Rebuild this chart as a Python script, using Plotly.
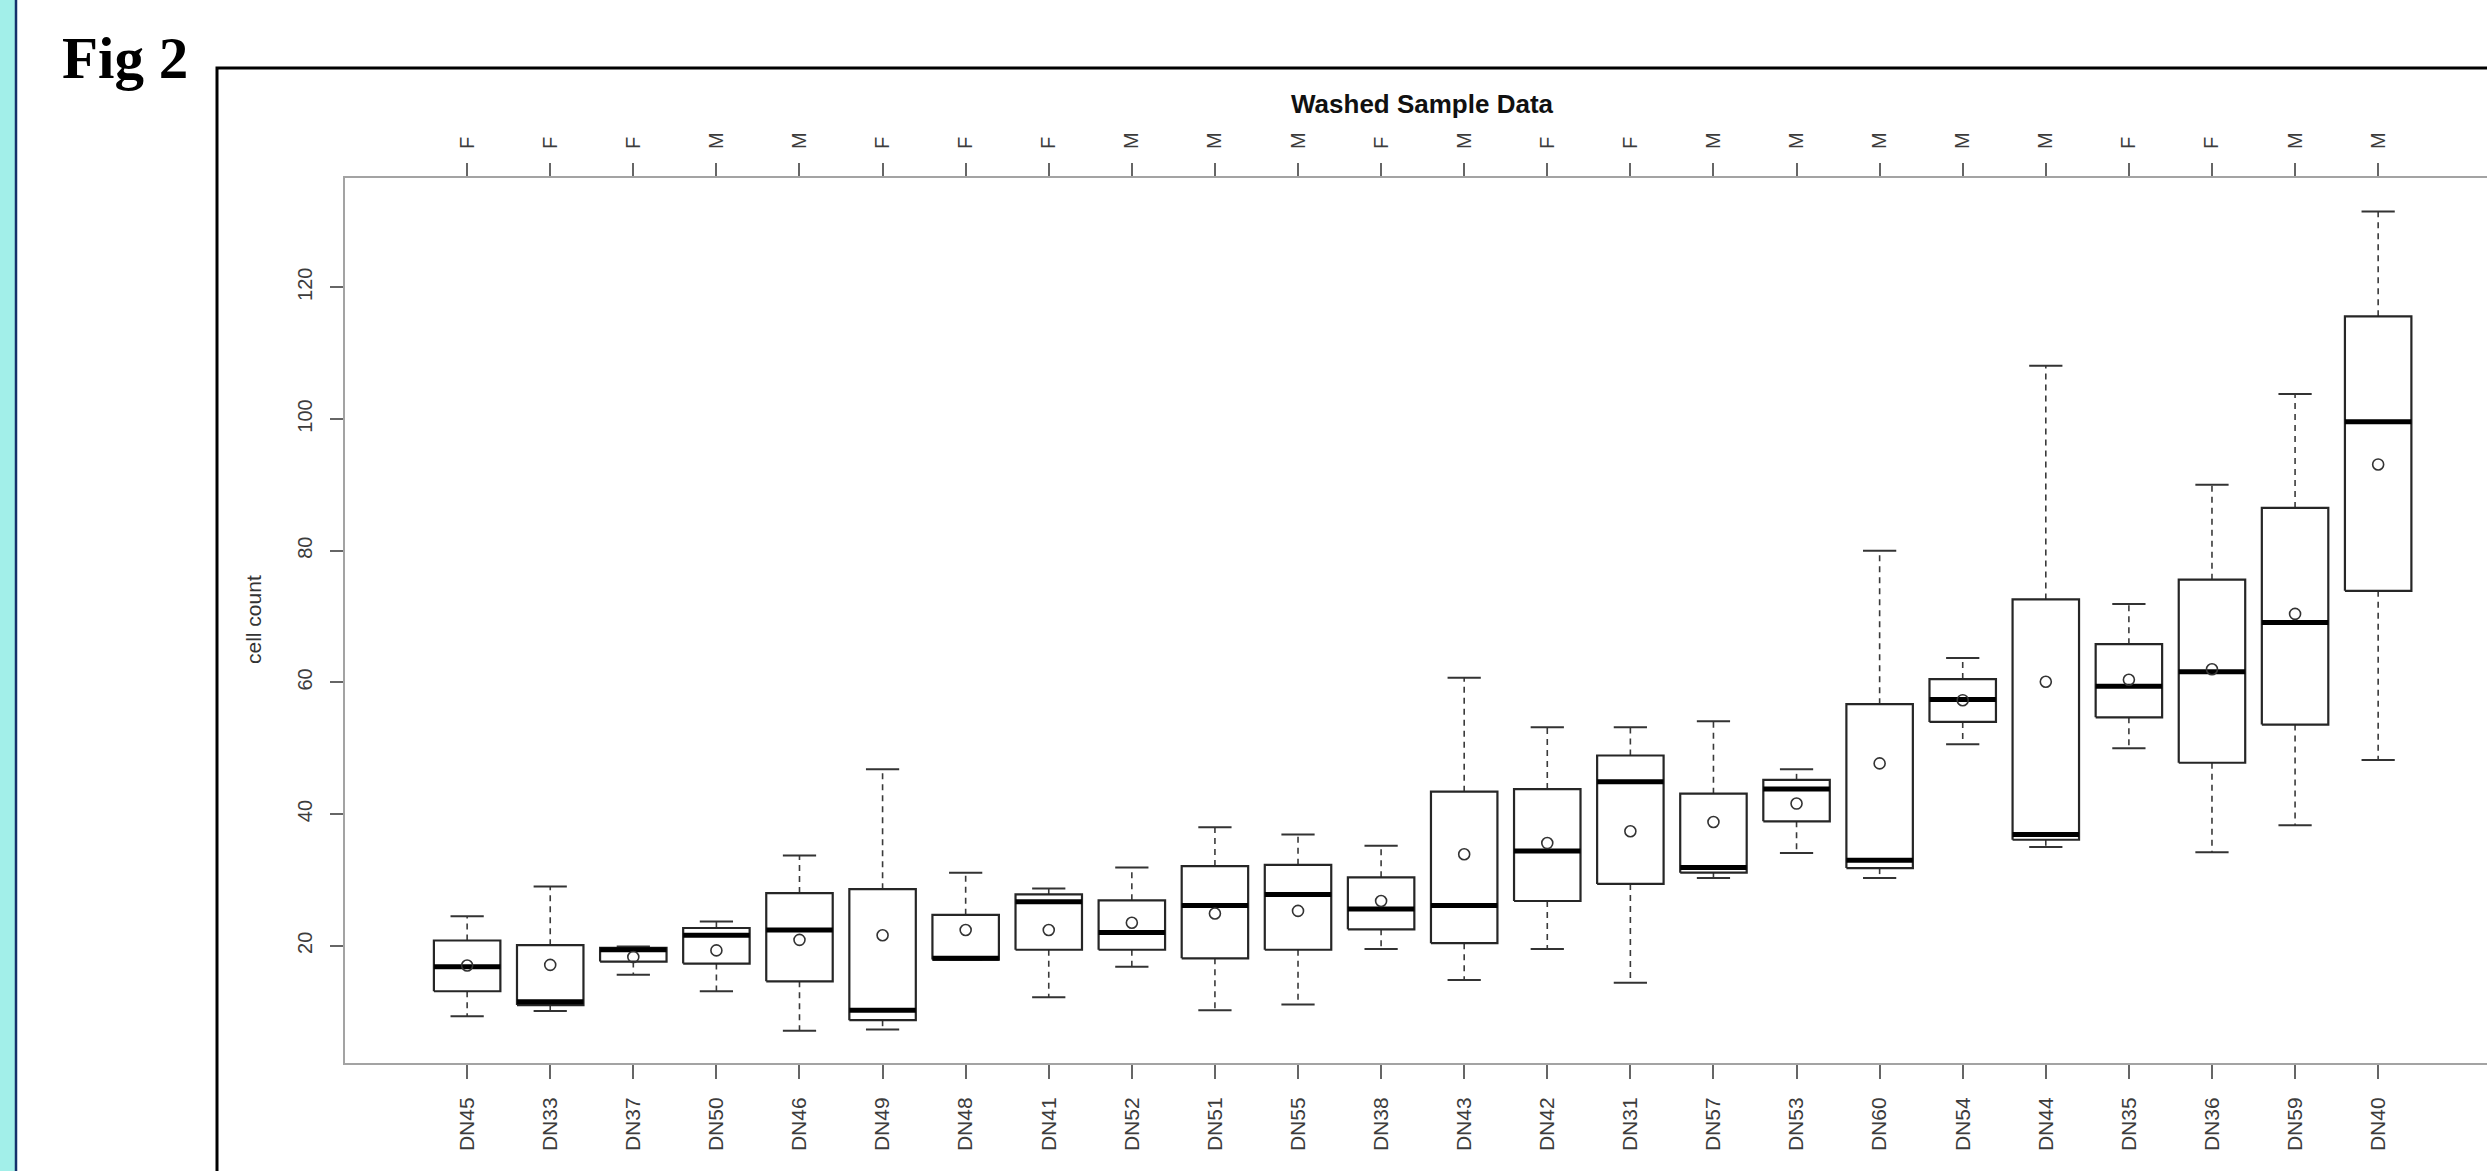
import plotly.graph_objects as go

# ---------------- data ----------------
samples = ["DN45", "DN33", "DN37", "DN50", "DN46", "DN49", "DN48", "DN41", "DN52", "DN51",
           "DN55", "DN38", "DN43", "DN42", "DN31", "DN57", "DN53", "DN60", "DN54", "DN44",
           "DN35", "DN36", "DN59", "DN40"]
sex = ["F", "F", "F", "M", "M", "F", "F", "F", "M", "M", "M", "F", "M", "F", "F", "M",
       "M", "M", "M", "M", "F", "F", "M", "M"]
whisker_low = [9.3, 10.1, 15.6, 13.1, 7.1, 7.3, 17.9, 12.2, 16.8, 10.2, 11.1, 19.5,
               14.8, 19.5, 14.4, 30.3, 34.1, 30.3, 50.6, 35.0, 50.0, 34.2, 38.3, 48.2]
q1 = [13.1, 11.0, 17.6, 17.3, 14.6, 8.7, 17.9, 19.4, 19.4, 18.1, 19.4, 22.5,
      20.4, 26.8, 29.4, 31.1, 38.9, 31.8, 54.0, 36.1, 54.7, 47.8, 53.6, 73.9]
median = [16.8, 11.5, 19.4, 21.6, 22.4, 10.2, 18.1, 26.7, 22.0, 26.1, 27.8, 25.6,
          26.1, 34.4, 44.9, 31.9, 43.8, 33.0, 57.4, 36.9, 59.4, 61.6, 69.1, 99.6]
q3 = [20.8, 20.1, 19.7, 22.7, 28.0, 28.6, 24.7, 27.8, 26.9, 32.1, 32.3, 30.4,
      43.4, 43.8, 48.9, 43.1, 45.2, 56.7, 60.5, 72.6, 65.8, 75.6, 86.5, 115.6]
whisker_high = [24.5, 29.0, 19.9, 23.7, 33.7, 46.8, 31.1, 28.7, 31.9, 38.0, 36.9, 35.2,
                60.7, 53.2, 53.2, 54.1, 46.8, 80.0, 63.7, 108.1, 71.9, 90.0, 103.8, 131.5]
mean = [17.0, 17.1, 18.3, 19.3, 20.9, 21.6, 22.4, 22.4, 23.5, 24.9, 25.3, 26.8,
        33.9, 35.6, 37.4, 38.8, 41.6, 47.7, 57.3, 60.1, 60.4, 62.0, 70.4, 93.1]
y_ticks = [20, 40, 60, 80, 100, 120]

# ---------------- layout geometry ----------------
W, H = 2487, 1171
ML, MT, MB, MR = 345, 178, 108, 0
PW, PH = W - ML - MR, H - MT - MB
PB = H - MB


def px2x(px):
    return (px - ML) / PW


def py2y(py):
    return (PB - py) / PH


BOXW = 0.4   # half box width (R default 0.8)
CAPW = 0.2   # half staple width

pos = list(range(1, len(samples) + 1))

bx, by, mx, my, wx, wy, cx, cy = [], [], [], [], [], [], [], []
for i, p in enumerate(pos):
    bx += [p - BOXW, p + BOXW, p + BOXW, p - BOXW, p - BOXW, None]
    by += [q1[i], q1[i], q3[i], q3[i], q1[i], None]
    mx += [p - BOXW, p + BOXW, None]
    my += [median[i], median[i], None]
    wx += [p, p, None, p, p, None]
    wy += [q3[i], whisker_high[i], None, q1[i], whisker_low[i], None]
    cx += [p - CAPW, p + CAPW, None, p - CAPW, p + CAPW, None]
    cy += [whisker_high[i], whisker_high[i], None, whisker_low[i], whisker_low[i], None]

fig = go.Figure()
fig.add_trace(go.Scatter(x=wx, y=wy, mode="lines", line=dict(color="#3a3a3a", width=1.6, dash="6px,5px"),
                         hoverinfo="skip", showlegend=False))
fig.add_trace(go.Scatter(x=cx, y=cy, mode="lines", line=dict(color="#333333", width=2),
                         hoverinfo="skip", showlegend=False))
fig.add_trace(go.Scatter(x=bx, y=by, mode="lines", line=dict(color="#262626", width=2.2),
                         hoverinfo="skip", showlegend=False))
fig.add_trace(go.Scatter(x=mx, y=my, mode="lines", line=dict(color="#000000", width=5),
                         hoverinfo="skip", showlegend=False))
fig.add_trace(go.Scatter(x=pos, y=mean, mode="markers",
                         marker=dict(symbol="circle-open", size=11, color="#333333", line=dict(width=1.6)),
                         showlegend=False))
# invisible trace for the top (sex) axis
fig.add_trace(go.Scatter(x=pos, y=mean, xaxis="x2", mode="markers", marker=dict(opacity=0),
                         hoverinfo="skip", showlegend=False))

axis_common = dict(showgrid=False, zeroline=False, showline=True, linecolor="#a3a3a3", linewidth=2,
                   ticks="outside", tickcolor="#666666", tickwidth=1.5)
label_font = dict(family="Liberation Sans, Arial, sans-serif", size=21, color="#3c3c3c")

fig.update_layout(
    width=W, height=H,
    margin=dict(l=ML, r=MR, t=MT, b=MB, pad=0),
    paper_bgcolor="white", plot_bgcolor="white",
    showlegend=False,
    xaxis=dict(range=[-0.47, 25.31], tickmode="array", tickvals=pos, ticktext=samples,
               tickangle=-90, ticklen=14, tickfont=label_font, ticklabelstandoff=10, **axis_common),
    xaxis2=dict(range=[-0.47, 25.31], overlaying="x", side="top", anchor="y", tickmode="array",
                tickvals=pos, ticktext=sex, tickangle=-90, ticklen=13,
                tickfont=dict(family="Liberation Sans, Arial, sans-serif", size=20, color="#3c3c3c"),
                ticklabelstandoff=10, **axis_common),
    yaxis=dict(range=[2.2, 136.6], tickmode="array", tickvals=y_ticks, tickangle=-90, ticklen=13,
               tickfont=dict(family="Liberation Sans, Arial, sans-serif", size=20, color="#3c3c3c"),
               ticklabelstandoff=10, **axis_common),
)

shapes = [
    # cyan page stripe and its navy edge
    dict(type="rect", xref="paper", yref="paper", x0=px2x(-5), x1=px2x(15), y0=py2y(H + 10), y1=py2y(-10),
         fillcolor="#a2efe9", line=dict(width=0), layer="above"),
    dict(type="line", xref="paper", yref="paper", x0=px2x(16), x1=px2x(16), y0=py2y(H + 10), y1=py2y(-10),
         line=dict(color="#14306b", width=2.5), layer="above"),
    # outer figure frame (runs off the right and bottom edges)
    dict(type="rect", xref="paper", yref="paper", x0=px2x(217), x1=px2x(W + 40), y0=py2y(H + 40), y1=py2y(68),
         fillcolor="rgba(0,0,0,0)", line=dict(color="black", width=3), layer="above"),
]
fig.update_layout(shapes=shapes)

fig.add_annotation(text="<b>Fig 2</b>", xref="paper", yref="paper", x=px2x(60), y=py2y(58),
                   xanchor="left", yanchor="middle", showarrow=False,
                   font=dict(family="Liberation Serif, DejaVu Serif, serif", size=59, color="black"))
fig.add_annotation(text="<b>Washed Sample Data</b>", xref="paper", yref="paper", x=px2x(1422), y=py2y(104),
                   xanchor="center", yanchor="middle", showarrow=False,
                   font=dict(family="Liberation Sans, Arial, sans-serif", size=26, color="#111111"))
fig.add_annotation(text="cell count", xref="paper", yref="paper", x=px2x(253), y=py2y(620),
                   xanchor="center", yanchor="middle", showarrow=False, textangle=-90,
                   font=dict(family="Liberation Sans, Arial, sans-serif", size=21, color="#333333"))

fig.write_html("out.html", config={"displayModeBar": False},
               post_script="document.body.style.margin='0';document.body.style.overflow='hidden';")
